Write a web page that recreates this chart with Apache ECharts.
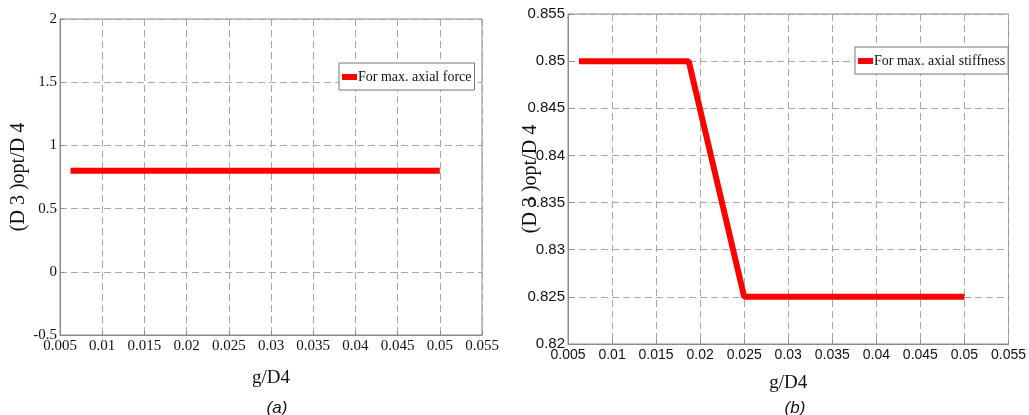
<!DOCTYPE html>
<html>
<head>
<meta charset="utf-8">
<script src="https://cdn.jsdelivr.net/npm/echarts@6/dist/echarts.min.js"></script>
<style>
  html, body { margin: 0; padding: 0; background: #fff; }
  #chart { width: 1029px; height: 415px; }
</style>
</head>
<body>
<div id="chart"></div>
<script>
// 数据: 两个子图 (a) 和 (b)
const xTicks = [0.005, 0.01, 0.015, 0.02, 0.025, 0.03, 0.035, 0.04, 0.045, 0.05, 0.055]
const forceX = [0.00625, 0.05]
const forceY = [0.8, 0.8]
const stiffX = [0.00625, 0.0187, 0.025, 0.05]
const stiffY = [0.85, 0.85, 0.825, 0.825]

const serif = '"Liberation Serif", "Times New Roman", serif'
const sans = '"Liberation Sans", Arial, sans-serif'
const frame = '#8a8a8a'

function pairs(xs, ys) {
  return xs.map((x, i) => [x, ys[i]])
}

// 坐标轴公共样式
function xAxisOf(gridIndex, font, size, gap) {
  return {
    type: 'value', gridIndex, min: xTicks[0], max: xTicks[xTicks.length - 1], interval: 0.005,
    name: 'g/D4', nameLocation: 'middle', nameGap: gap, nameMoveOverlap: false,
    nameTextStyle: { fontFamily: serif, fontSize: 19, color: '#111' },
    axisLine: { show: true, onZero: false, lineStyle: { color: frame } },
    axisTick: { show: true, inside: true, length: 4, lineStyle: { color: frame } },
    axisLabel: { fontFamily: font, fontSize: size, color: '#111', margin: 4,
      formatter: v => String(+v.toFixed(3)) },
    splitLine: { show: true, lineStyle: { color: '#a8a8a8', type: [7, 4] } }
  }
}
function yAxisOf(gridIndex, min, max, interval, font, size, gap) {
  return {
    type: 'value', gridIndex, min, max, interval,
    name: '(D 3 )opt/D 4', nameLocation: 'middle', nameGap: gap, nameMoveOverlap: false,
    nameTextStyle: { fontFamily: serif, fontSize: 20, color: '#111' },
    axisLine: { show: true, onZero: false, lineStyle: { color: frame } },
    axisTick: { show: true, inside: true, length: 4, lineStyle: { color: frame } },
    axisLabel: { fontFamily: font, fontSize: size, color: '#111', margin: 3,
      formatter: v => String(+v.toFixed(3)) },
    splitLine: { show: true, lineStyle: { color: '#a8a8a8', type: [7, 4] } }
  }
}
function legendOf(name, left, top, size) {
  return {
    data: [name], left, top, orient: 'vertical',
    icon: 'rect', itemWidth: 15, itemHeight: 6, itemGap: 2,
    padding: [7, 3, 6, 3],
    backgroundColor: '#fff', borderColor: '#777', borderWidth: 1,
    textStyle: { fontFamily: serif, fontSize: size, color: '#111', padding: [0, 0, 0, -4] }
  }
}

const myChart = echarts.init(document.getElementById('chart'))
const option = {
  animation: false,
  backgroundColor: '#fff',
  title: [
    { text: '(a)', left: 272, top: 395, textAlign: 'center',
      textStyle: { fontFamily: sans, fontSize: 17, fontWeight: 'normal', fontStyle: 'italic', color: '#111' } },
    { text: '(b)', left: 790, top: 395, textAlign: 'center',
      textStyle: { fontFamily: sans, fontSize: 17, fontWeight: 'normal', fontStyle: 'italic', color: '#111' } }
  ],
  grid: [
    { left: 60, right: 547, top: 19, bottom: 80, show: true, borderColor: frame, borderWidth: 1 },
    { left: 568, right: 17, top: 14, bottom: 71, show: true, borderColor: frame, borderWidth: 1 }
  ],
  xAxis: [
    xAxisOf(0, serif, 15, 34),
    xAxisOf(1, sans, 14, 30)
  ],
  yAxis: [
    yAxisOf(0, -0.5, 2, 0.5, serif, 15, 31),
    yAxisOf(1, 0.82, 0.855, 0.005, sans, 15, 27)
  ],
  legend: [
    legendOf('For max. axial force', 339, 63, 14),
    legendOf('For max. axial stiffness', 855, 47, 14)
  ],
  series: [
    {
      name: 'For max. axial force', type: 'line', xAxisIndex: 0, yAxisIndex: 0,
      data: pairs(forceX, forceY), showSymbol: false, symbol: 'none',
      lineStyle: { color: '#ff0000', width: 6 }, itemStyle: { color: '#ff0000' }
    },
    {
      name: 'For max. axial stiffness', type: 'line', xAxisIndex: 1, yAxisIndex: 1,
      data: pairs(stiffX, stiffY), showSymbol: false, symbol: 'none',
      lineStyle: { color: '#ff0000', width: 6 }, itemStyle: { color: '#ff0000' }
    }
  ]
}
option && myChart.setOption(option)
</script>
</body>
</html>
